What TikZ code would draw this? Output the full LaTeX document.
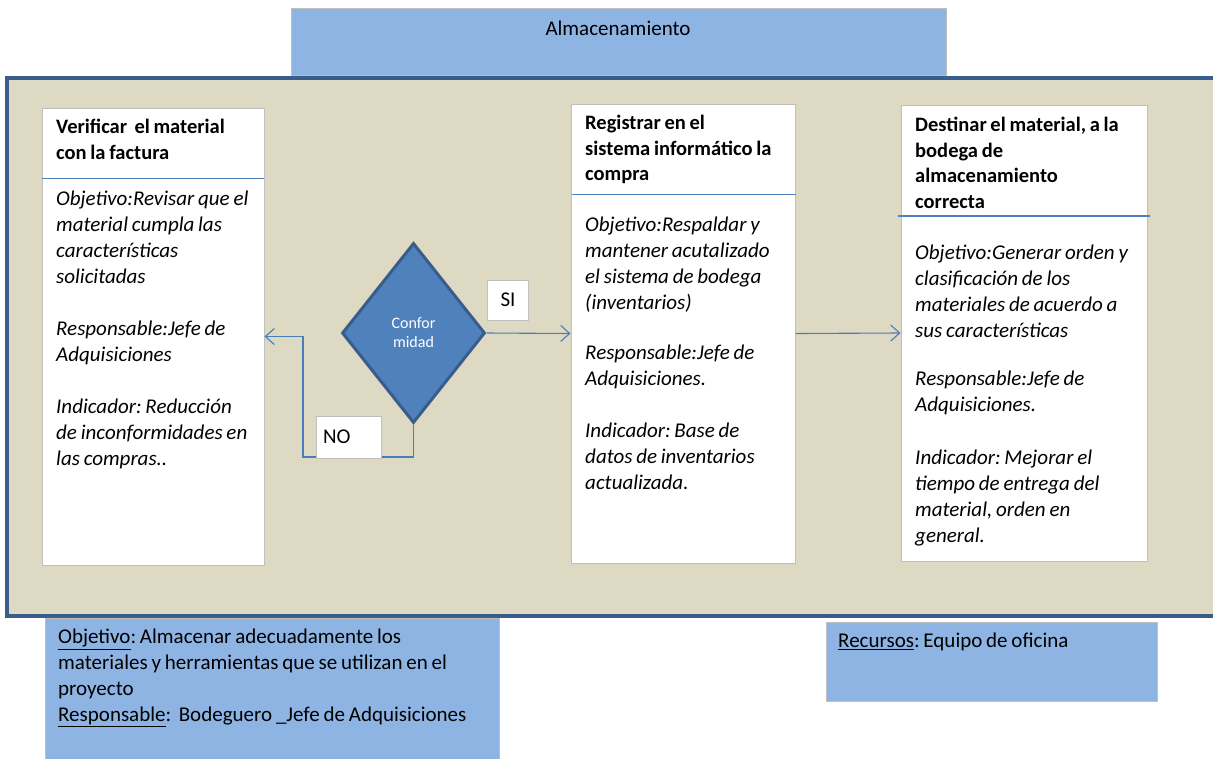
\documentclass[tikz,border=0pt]{standalone}
\usepackage{fontspec}
\setmainfont{Carlito}[WordSpace=0.8]
\frenchspacing
\usetikzlibrary{arrows.meta,shapes.geometric}
\definecolor{hdrblue}{HTML}{8EB4E3}
\definecolor{framefill}{HTML}{DDD9C3}
\definecolor{framedraw}{HTML}{385D8A}
\definecolor{boxgrey}{HTML}{BFBFBF}
\definecolor{lineblue}{HTML}{4F81BD}
\definecolor{arrblue}{HTML}{4A7EBB}
\tikzset{
  txt/.style={font=\fontsize{21}{26}\selectfont, align=left, anchor=north west, inner sep=0pt},
  ttl/.style={txt, font=\fontsize{20.5}{25.5}\selectfont\bfseries},
  body/.style={txt, font=\fontsize{21}{26}\selectfont\itshape},
  stepbox/.style={draw=boxgrey, fill=white, line width=1pt, rectangle, inner sep=0pt},
  sep/.style={draw=lineblue, line width=1.3pt},
  arr/.style={draw=arrblue, line width=1.1pt, -{Straight Barb[length=9pt,width=16pt,line width=1.1pt]}},
  bluebox/.style={draw=boxgrey, fill=hdrblue, line width=1pt}
}
\begin{document}
\begin{tikzpicture}[x=1pt,y=-1pt]
\useasboundingbox (0,0) rectangle (1213,758);
% title
\draw[bluebox] (291,8) rectangle (946,75);
\node[txt, anchor=center, font=\fontsize{21}{22}\selectfont] (title) at (618,28) {Almacenamiento};
% frame
\draw[fill=framefill, draw=framedraw, line width=4pt] (7,78) rectangle (1222,616);
% boxes
\node[stepbox, minimum width=222pt, minimum height=457pt] (b1) at (153,336.5) {};
\node[stepbox, minimum width=224pt, minimum height=459pt] (b2) at (683,333.5) {};
\node[stepbox, minimum width=246pt, minimum height=456pt] (b3) at (1024,333) {};
\draw[sep] (42,178.5) -- (264,178.5);
\draw[sep] (572,194.5) -- (796,194.5);
\draw[sep] (898,216) -- (1150,216);
% box 1 text
\node[ttl] (t1) at (56,119) {Verificar\ \ el material\\con la factura};
\node[body] (d1) at (56,191) {Objetivo:Revisar que el\\material cumpla las\\características\\solicitadas\\[26pt]Responsable:Jefe de\\Adquisiciones\\[26pt]Indicador: Reducción\\de inconformidades en\\las compras..};
% box 2 text
\node[ttl] (t2) at (585,115) {Registrar en el\\sistema informático la\\compra};
\node[body] (d2) at (585,217) {Objetivo:Respaldar y\\mantener acutalizado\\el sistema de bodega\\(inventarios)\\[24pt]Responsable:Jefe de\\Adquisiciones.\\[26pt]Indicador: Base de\\datos de inventarios\\actualizada.};
% box 3 text
\node[ttl] (t3) at (915,117) {Destinar el material, a la\\bodega de\\almacenamiento\\correcta};
\node[body] (d3) at (915,245) {Objetivo:Generar orden y\\clasificación de los\\materiales de acuerdo a\\sus características\\[22pt]Responsable:Jefe de\\Adquisiciones.\\[27pt]Indicador: Mejorar el\\tiempo de entrega del\\material, orden en\\general.};
% diamond
\node[diamond, draw=framedraw, fill=lineblue, line width=3pt, minimum width=143pt, minimum height=180pt, inner sep=0pt, text=white, align=center, font=\fontsize{16}{19}\selectfont] (dia) at (413.5,333) {Confor\\midad};
% labels
\node[stepbox, minimum width=41pt, minimum height=40pt, font=\fontsize{21}{22}\selectfont] (si) at (508,300) {SI};
% connectors
\coordinate (n1) at (303,457);
\draw[arr] (dia.east) -- (b2.west);
\draw[arr] (b2.east) -- (b3.west);
\draw[arr] (dia.south) |- (n1) |- (b1.east);
\node[stepbox, minimum width=65pt, minimum height=42pt, font=\fontsize{21}{22}\selectfont, text width=51pt, align=left] (no) at (348.5,437) {NO};
% bottom boxes
\draw[bluebox] (45,618) rectangle (499,762);
\node[txt] (obj) at (58,629) {\underline{Objetivo}: Almacenar adecuadamente los\\materiales y herramientas que se utilizan en el\\proyecto\\\underline{Responsable}:\ \ Bodeguero \_Jefe de Adquisiciones};
\draw[bluebox] (826,622) rectangle (1157,701);
\node[txt] (rec) at (838,633) {\underline{Recursos}: Equipo de oficina};
\end{tikzpicture}
\end{document}
